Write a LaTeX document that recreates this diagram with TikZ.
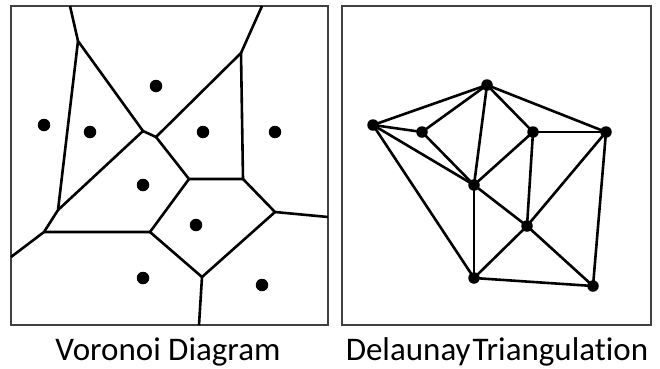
\documentclass[tikz,border=0pt]{standalone}
\usepackage{fontspec}
\setmainfont{Carlito}[Ligatures=NoCommon]
\tikzset{
  site/.style={circle,fill=black,inner sep=0pt,minimum size=12.5pt},
  vtx/.style={circle,fill=black,inner sep=0pt,minimum size=11.5pt},
  cell/.style={line width=2.6pt,line join=round},
  frame/.style={draw=black!75,line width=1.4pt},
  caption/.style={anchor=base,inner sep=0pt,font=\fontsize{33}{36}\selectfont}
}
\begin{document}
\begin{tikzpicture}[x=1pt,y=-1pt]
\useasboundingbox (0,0) rectangle (660,368);
\draw[frame] (11,6) rectangle (328,325);
\draw[frame] (342,6) rectangle (651,325);
\coordinate (a1) at (70,6);
\coordinate (a2) at (262,6);
\coordinate (a3) at (11,257);
\coordinate (a4) at (328,217);
\coordinate (a5) at (199,325);
\coordinate (v1) at (78,41);
\coordinate (v2) at (241,53);
\coordinate (v3) at (143,131);
\coordinate (v4) at (156,137);
\coordinate (v5) at (189,179);
\coordinate (v6) at (243,179);
\coordinate (v7) at (58,210);
\coordinate (v8) at (44,232);
\coordinate (v9) at (150,232);
\coordinate (v10) at (275,212);
\coordinate (v11) at (202,277);
\draw[cell] (a1) -- (v1) -- (v3) -- (v4) -- (v2) -- (a2);
\draw[cell] (v1) -- (v7) -- (v8) -- (a3);
\draw[cell] (v3) -- (v7);
\draw[cell] (v2) -- (v6) -- (v5) -- (v4);
\draw[cell] (v8) -- (v9) -- (v5);
\draw[cell] (v6) -- (v10) -- (a4);
\draw[cell] (v9) -- (v11) -- (v10);
\draw[cell] (v11) -- (a5);
\node[site] (s1) at (156,86) {};
\node[site] (s2) at (44,125) {};
\node[site] (s3) at (90,132) {};
\node[site] (s4) at (203,132) {};
\node[site] (s5) at (275,132) {};
\node[site] (s6) at (143,185) {};
\node[site] (s7) at (196,225) {};
\node[site] (s8) at (143,278) {};
\node[site] (s9) at (262,285) {};
\node[vtx] (p1) at (373,125) {};
\node[vtx] (p2) at (422,132) {};
\node[vtx] (p3) at (487,85) {};
\node[vtx] (p4) at (533,132) {};
\node[vtx] (p5) at (606,132) {};
\node[vtx] (p6) at (474,185) {};
\node[vtx] (p7) at (527,226) {};
\node[vtx] (p8) at (474,278) {};
\node[vtx] (p9) at (593,286) {};
\foreach \i/\j in {1/3,1/2,1/6,1/8,2/3,2/6,3/6,3/4,3/5,4/5,4/6,4/7,5/7,5/9,6/7,6/8,7/8,7/9,8/9}
  \draw[cell] (p\i.center) -- (p\j.center);
\node[caption] (vlabel) at (168,360) {Voronoi Diagram};
\node[caption] (dlabel) at (497,360) {Delaunay\hspace{2pt}Triangulation};
\end{tikzpicture}
\end{document}
